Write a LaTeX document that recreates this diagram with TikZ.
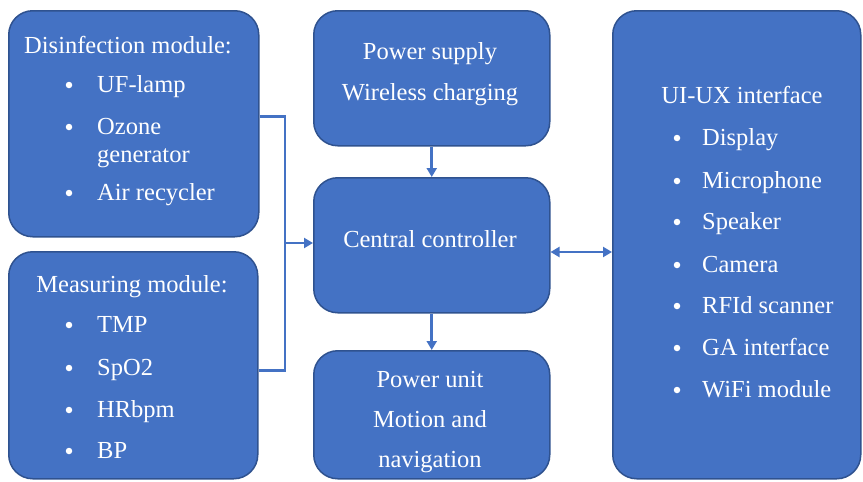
\documentclass[tikz,border=0pt]{standalone}
\usepackage{fontspec}
\setmainfont{Liberation Serif}
\usetikzlibrary{arrows.meta}
\definecolor{boxfill}{HTML}{4472C4}
\definecolor{boxline}{HTML}{2F528F}
\definecolor{connc}{HTML}{4472C4}
\begin{document}
\begin{tikzpicture}[x=1pt,y=-1pt,
  box/.style={draw=boxline, line width=1.5pt, fill=boxfill, rounded corners=24pt, rectangle, anchor=north west, inner sep=0pt},
  txt/.style={text=white, font=\fontsize{24.5}{28}\selectfont, inner sep=0pt, anchor=base},
  itm/.style={text=white, font=\fontsize{24.5}{28}\selectfont, inner sep=0pt, anchor=base west},
  bul/.style={fill=white, circle, minimum size=6.5pt, inner sep=0pt},
  line/.style={draw=connc, line width=2.6pt},
  conn/.style={line, -{Triangle[length=9pt,width=10pt]}},
  dconn/.style={line, {Triangle[length=9pt,width=10pt]}-{Triangle[length=9pt,width=10pt]}}]
\useasboundingbox (0,0) rectangle (863,482);
\fill[white] (0,0) rectangle (863,482);
% boxes
\node[box, minimum width=250pt, minimum height=226pt] (dis) at (8,10) {};
\node[box, minimum width=249pt, minimum height=227pt] (mea) at (8,251) {};
\node[box, minimum width=236pt, minimum height=135pt] (ps) at (313,10) {};
\node[box, minimum width=236pt, minimum height=135pt] (cc) at (313,177) {};
\node[box, minimum width=236pt, minimum height=128pt] (pu) at (313,350) {};
\node[box, minimum width=248pt, minimum height=468pt] (ui) at (612,10) {};
% texts: disinfection
\node[txt] (t1) at (128,53) {Disinfection module:};
\node[bul] (b11) at (69,85) {}; \node[itm] (i11) at (97,92) {UF-lamp};
\node[bul] (b12) at (69,127) {}; \node[itm] (i12) at (97,134) {Ozone};
\node[itm] (i13) at (97,162) {generator};
\node[bul] (b14) at (69,193) {}; \node[itm] (i14) at (97,200) {Air recycler};
% measuring
\node[txt] (t2) at (132,292) {Measuring module:};
\node[bul] (b21) at (69,325) {}; \node[itm] (i21) at (97,332) {TMP};
\node[bul] (b22) at (69,368) {}; \node[itm] (i22) at (97,375) {SpO2};
\node[bul] (b23) at (69,410) {}; \node[itm] (i23) at (97,417) {HRbpm};
\node[bul] (b24) at (69,451) {}; \node[itm] (i24) at (97,458) {BP};
% centre column
\node[txt] (t3) at (430,59) {Power supply};
\node[txt] (t4) at (430,100) {Wireless charging};
\node[txt] (t5) at (430,247) {Central controller};
\node[txt] (t6) at (430,387) {Power unit};
\node[txt] (t7) at (430,427) {Motion and};
\node[txt] (t8) at (430,467) {navigation};
% UI
\node[txt] (t9) at (742,103) {UI-UX interface};
\node[bul] (b31) at (677,138) {}; \node[itm] (i31) at (702,145) {Display};
\node[bul] (b32) at (677,181) {}; \node[itm] (i32) at (702,188) {Microphone};
\node[bul] (b33) at (677,222) {}; \node[itm] (i33) at (702,229) {Speaker};
\node[bul] (b34) at (677,265) {}; \node[itm] (i34) at (702,272) {Camera};
\node[bul] (b35) at (677,306) {}; \node[itm] (i35) at (702,313) {RFId scanner};
\node[bul] (b36) at (677,348) {}; \node[itm] (i36) at (702,355) {GA interface};
\node[bul] (b37) at (677,390) {}; \node[itm] (i37) at (702,397) {WiFi module};
% connectors
\coordinate (j) at (285,243);
\coordinate (d) at (580,252);
\draw[line] ([yshift=7pt]dis.east) -| (j);
\draw[line] ([yshift=-5pt]mea.east) -| (j);
\draw[conn] (j) -- (cc.west |- j);
\draw[conn] (ps.south) -- (cc.north);
\draw[conn] (cc.south) -- (pu.north);
\draw[dconn] (cc.east |- d) -- (ui.west |- d);
\end{tikzpicture}
\end{document}
